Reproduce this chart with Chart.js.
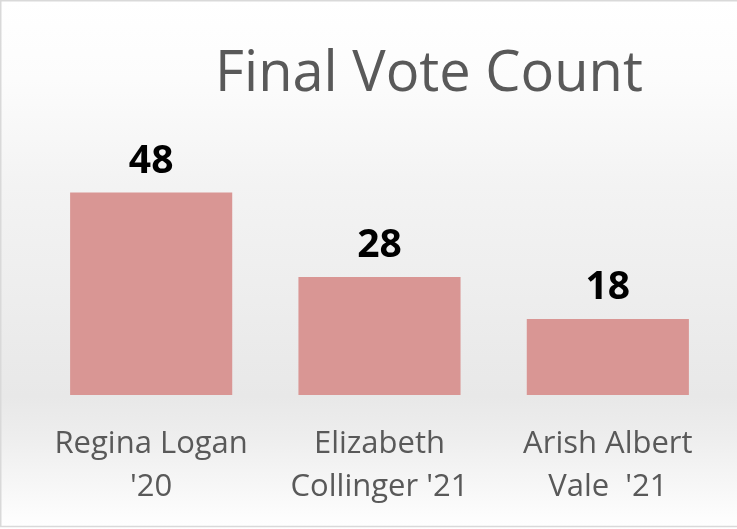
<!DOCTYPE html>
<html>
<head>
<meta charset="utf-8">
<script src="https://cdn.jsdelivr.net/npm/chart.js@4.4.1/dist/chart.umd.min.js"></script>
<style>
  body { margin: 0; background: #fff; }
  #voteChart { display: block; }
</style>
</head>
<body>
<canvas id="voteChart" width="737" height="529"></canvas>
<script>
const titleText = 'Final Vote Count';
const candidates = [
    ['Regina Logan', "'20"],
    ['Elizabeth', "Collinger '21"],
    ['Arish Albert', "Vale  '21"]
];
const votes = [48, 28, 18];
const axisMax = 60;

// gray-ish background gradient plus the thin frame
const backdrop = {
    id: 'backdrop',
    beforeDraw(chart) {
        const { ctx, width, height } = chart;
        const g = ctx.createLinearGradient(0, 0, 0, height);
        g.addColorStop(0, '#ffffff');
        g.addColorStop(0.15, '#fcfcfc');
        g.addColorStop(0.35, '#f3f3f3');
        g.addColorStop(0.75, '#e8e8e8');
        g.addColorStop(0.83, '#eeeeee');
        g.addColorStop(1, '#ffffff');
        ctx.save();
        ctx.fillStyle = g;
        ctx.fillRect(0, 0, width, height);
        ctx.strokeStyle = '#d9d9d9';
        ctx.lineWidth = 1.5;
        ctx.beginPath();
        ctx.moveTo(width, 0.75);
        ctx.lineTo(0.75, 0.75);
        ctx.lineTo(0.75, height - 2.5);
        ctx.lineTo(width, height - 2.5);
        ctx.stroke();
        ctx.restore();
    }
};

// nudge the title right, like the original
const titleShift = {
    id: 'titleShift',
    afterLayout(chart) {
        if (chart.titleBlock) chart.titleBlock.left = 136;
    }
};

// value labels on top of the bars
const barValues = {
    id: 'barValues',
    afterDatasetsDraw(chart) {
        const { ctx } = chart;
        const meta = chart.getDatasetMeta(0);
        ctx.save();
        ctx.font = 'bold 39px "Open Sans"';
        ctx.fillStyle = '#000000';
        ctx.textAlign = 'center';
        ctx.textBaseline = 'alphabetic';
        meta.data.forEach((bar, i) => {
            ctx.fillText(String(votes[i]), bar.x, bar.y - 20);
        });
        ctx.restore();
    }
};

const ctx = document.getElementById('voteChart').getContext('2d');
const voteChart = new Chart(ctx, {
    type: 'bar',
    data: {
        labels: candidates,
        datasets: [{
            label: 'Votes',
            data: votes,
            backgroundColor: '#d99694',
            borderWidth: 0,
            barPercentage: 0.71,
            categoryPercentage: 1
        }]
    },
    options: {
        responsive: false,
        animation: false,
        layout: {
            padding: { left: 37, right: 15, top: 0, bottom: 21 }
        },
        plugins: {
            legend: { display: false },
            tooltip: { enabled: false },
            title: {
                display: true,
                text: titleText,
                color: '#595959',
                font: { family: 'Open Sans', size: 56, weight: 'normal' },
                padding: { top: 41.4, bottom: 33.4 }
            }
        },
        scales: {
            x: {
                grid: { display: false, drawTicks: false },
                border: { display: false },
                ticks: {
                    color: '#595959',
                    font: { family: 'Open Sans', size: 31, lineHeight: 1.38 },
                    padding: 27.6,
                    maxRotation: 0,
                    autoSkip: false
                },
                afterFit(scale) {
                    scale.height = 113;
                }
            },
            y: {
                display: false,
                min: 0,
                max: axisMax
            }
        }
    },
    plugins: [backdrop, titleShift, barValues]
});
</script>
</body>
</html>
